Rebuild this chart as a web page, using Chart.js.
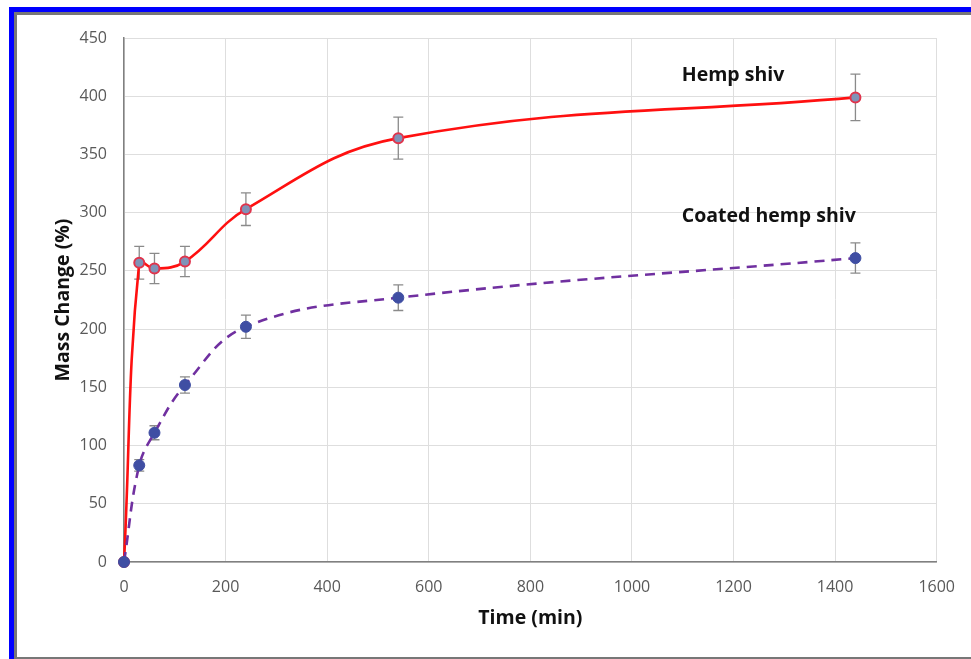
<!DOCTYPE html>
<html lang="en">
<head>
    <meta charset="UTF-8">
    <title>Mass Change vs Time</title>
    <script src="https://cdn.jsdelivr.net/npm/chart.js"></script>
    <style>
        body {
            margin: 0;
            background: #fff;
            overflow: hidden;
        }
        #massChart {
            position: absolute;
            left: 0;
            top: 0;
        }
        .frame-outer {
            position: absolute;
            left: 9px;
            top: 7px;
            width: 1000px;
            height: 700px;
            border: 5px solid #0000ff;
            pointer-events: none;
        }
        .frame-inner {
            position: absolute;
            left: 14px;
            top: 12px;
            width: 1000px;
            height: 642px;
            border: 3px solid #777;
            pointer-events: none;
        }
    </style>
</head>
<body>
    <canvas id="massChart" width="971" height="659"></canvas>
    <div class="frame-outer"></div>
    <div class="frame-inner"></div>

    <script>
        // sampling times (min)
        const timeMin = [0, 30, 60, 120, 240, 540, 1440];

        // mass change (%) and error bars for both materials
        const hempMass = [0, 257, 252, 258, 303, 364, 399];
        const hempErr = [0, 14, 13, 13, 14, 18, 20];
        const coatedMass = [0, 83, 111, 152, 202, 227, 261];
        const coatedErr = [0, 5, 6, 7, 10, 11, 13];

        const xTicks = [0, 200, 400, 600, 800, 1000, 1200, 1400, 1600];
        const yTicks = [0, 50, 100, 150, 200, 250, 300, 350, 400, 450];

        const seriesNames = ['Hemp shiv', 'Coated hemp shiv'];

        const toPoints = ys => timeMin.map((t, i) => ({ x: t, y: ys[i] }));

        // vertical error bars with caps, drawn under the markers
        const errorBars = {
            id: 'errorBars',
            beforeDatasetsDraw(chart) {
                const { ctx, scales: { x, y } } = chart;
                const sets = [[hempMass, hempErr], [coatedMass, coatedErr]];
                ctx.save();
                ctx.strokeStyle = '#8a8a8a';
                ctx.lineWidth = 1.3;
                sets.forEach(([vals, errs]) => {
                    vals.forEach((v, i) => {
                        if (!errs[i]) return;
                        const px = x.getPixelForValue(timeMin[i]);
                        const top = y.getPixelForValue(v + errs[i]);
                        const bot = y.getPixelForValue(v - errs[i]);
                        ctx.beginPath();
                        ctx.moveTo(px, top);
                        ctx.lineTo(px, bot);
                        ctx.moveTo(px - 5, top);
                        ctx.lineTo(px + 5, top);
                        ctx.moveTo(px - 5, bot);
                        ctx.lineTo(px + 5, bot);
                        ctx.stroke();
                    });
                });
                ctx.restore();
            }
        };

        // series names written next to the curves
        const seriesLabels = {
            id: 'seriesLabels',
            afterDatasetsDraw(chart) {
                const { ctx, scales: { x, y } } = chart;
                ctx.save();
                ctx.fillStyle = '#111';
                ctx.font = 'bold 19.5px "Open Sans"';
                ctx.textAlign = 'left';
                ctx.textBaseline = 'middle';
                ctx.fillText(seriesNames[0], x.getPixelForValue(1098), y.getPixelForValue(418));
                ctx.fillText(seriesNames[1], x.getPixelForValue(1098), y.getPixelForValue(297));
                ctx.restore();
            }
        };

        const tickFont = { family: 'Open Sans', size: 16 };
        const titleFont = { family: 'Open Sans', size: 19.5, weight: 'bold' };

        new Chart(document.getElementById('massChart'), {
            type: 'line',
            data: {
                datasets: [{
                    label: seriesNames[0],
                    data: toPoints(hempMass),
                    borderColor: '#ff1010',
                    borderWidth: 2.6,
                    tension: 0.4,
                    pointRadius: 5,
                    pointBackgroundColor: '#7f93b8',
                    pointBorderColor: '#e0344c',
                    pointBorderWidth: 2,
                    clip: false,
                    order: 1
                }, {
                    label: seriesNames[1],
                    data: toPoints(coatedMass),
                    borderColor: '#7030a0',
                    borderWidth: 2.6,
                    borderDash: [10, 7],
                    tension: 0.4,
                    pointRadius: 5.5,
                    pointBackgroundColor: '#3f4ea3',
                    pointBorderColor: '#3f4ea3',
                    pointBorderWidth: 1,
                    clip: false,
                    order: 0
                }]
            },
            options: {
                responsive: false,
                animation: false,
                devicePixelRatio: 1,
                layout: {
                    padding: { top: 38, right: 31, left: 0, bottom: 0 }
                },
                plugins: {
                    legend: { display: false },
                    tooltip: { enabled: false }
                },
                scales: {
                    x: {
                        type: 'linear',
                        min: 0,
                        max: 1600,
                        afterFit: scale => { scale.height = 97; },
                        afterBuildTicks: scale => { scale.ticks = xTicks.map(v => ({ value: v })); },
                        ticks: { color: '#595959', font: tickFont, padding: 16, callback: v => String(v) },
                        grid: { color: '#dedede', drawTicks: false },
                        border: { color: '#808080', width: 1.5 },
                        title: {
                            display: true,
                            text: 'Time (min)',
                            color: '#111',
                            font: titleFont,
                            padding: { top: 0, bottom: 29 }
                        }
                    },
                    y: {
                        min: 0,
                        max: 450,
                        afterFit: scale => { scale.width = 124; },
                        afterBuildTicks: scale => { scale.ticks = yTicks.map(v => ({ value: v })); },
                        ticks: { color: '#595959', font: tickFont, padding: 17, callback: v => String(v) },
                        grid: { color: '#dedede', drawTicks: false },
                        border: { color: '#808080', width: 1.5 },
                        title: {
                            display: true,
                            text: 'Mass Change (%)',
                            color: '#111',
                            font: titleFont,
                            padding: { top: 52, bottom: 0 }
                        }
                    }
                }
            },
            plugins: [errorBars, seriesLabels]
        });
    </script>
</body>
</html>
